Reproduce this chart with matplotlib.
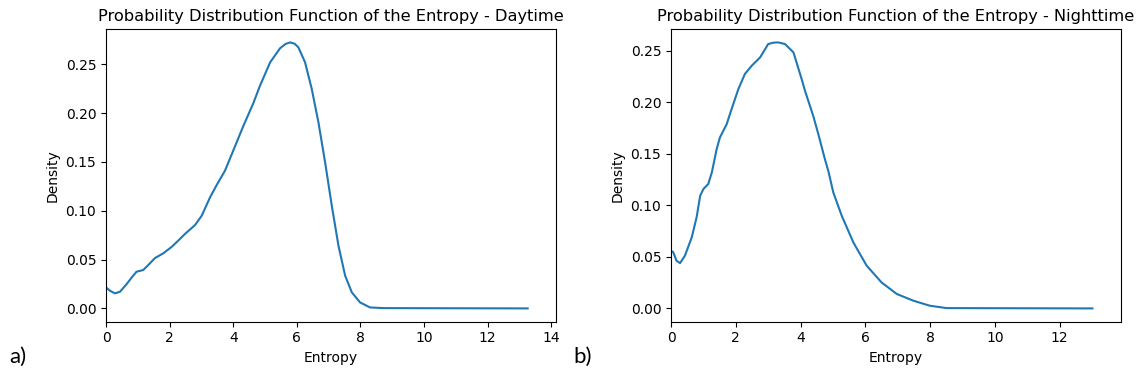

import matplotlib
matplotlib.use("Agg")
import matplotlib.pyplot as plt

# Daytime density curve
DAY_X = [0.00, 0.13, 0.28, 0.44, 0.65, 0.81, 0.96, 1.17, 1.33, 1.54, 1.80,
         2.07, 2.27, 2.48, 2.80, 3.01, 3.27, 3.48, 3.74, 4.00, 4.32, 4.63,
         4.84, 5.16, 5.47, 5.65, 5.79, 5.93, 6.05, 6.26, 6.47, 6.68, 6.89,
         7.10, 7.31, 7.52, 7.73, 7.99, 8.30, 8.72, 13.26]
DAY_Y = [0.0215, 0.0180, 0.0154, 0.0171, 0.0250, 0.0318, 0.0376, 0.0393,
         0.0445, 0.0516, 0.0564, 0.0632, 0.0694, 0.0762, 0.0854, 0.0950,
         0.1137, 0.1264, 0.1410, 0.1616, 0.1870, 0.2100, 0.2280, 0.2520,
         0.2664, 0.2710, 0.2725, 0.2712, 0.2674, 0.2520, 0.2248, 0.1906,
         0.1496, 0.1052, 0.0642, 0.0335, 0.0164, 0.0061, 0.0010, 0.0003, 0.0]

# Nighttime density curve
NIGHT_X = [0.00, 0.07, 0.17, 0.28, 0.43, 0.64, 0.79, 0.90, 1.00, 1.15, 1.26,
           1.41, 1.51, 1.72, 1.87, 2.08, 2.28, 2.49, 2.75, 3.00, 3.15, 3.31,
           3.52, 3.78, 4.03, 4.14, 4.39, 4.55, 4.75, 4.86, 5.01, 5.27, 5.63,
           6.04, 6.50, 6.97, 7.48, 7.99, 8.51, 13.01]
NIGHT_Y = [0.0560, 0.0545, 0.0463, 0.0440, 0.0512, 0.0690, 0.0884, 0.1094,
           0.1159, 0.1208, 0.1320, 0.1548, 0.1660, 0.1790, 0.1936, 0.2130,
           0.2276, 0.2356, 0.2437, 0.2567, 0.2580, 0.2583, 0.2567, 0.2486,
           0.2230, 0.2110, 0.1870, 0.1690, 0.1450, 0.1330, 0.1126, 0.0900,
           0.0640, 0.0415, 0.0252, 0.0140, 0.0075, 0.0026, 0.0003, 0.0]

PANELS = [
    ("Daytime", DAY_X, DAY_Y, 14.15, "a)"),
    ("Nighttime", NIGHT_X, NIGHT_Y, 13.89, "b)"),
]

fig = plt.figure(figsize=(11.4, 3.8), dpi=100)
axes = [fig.add_axes([0.093, 0.1534, 0.3947, 0.770]),
        fig.add_axes([0.5886, 0.1534, 0.3947, 0.770])]

for ax, (name, xs, ys, xmax, tag) in zip(axes, PANELS):
    ax.plot(xs, ys, color="#1f77b4", lw=1.5)
    ax.set_xlim(0, xmax)
    ymax = max(ys)
    ax.set_ylim(-0.05 * ymax, 1.05 * ymax)
    ax.set_yticks([0.0, 0.05, 0.10, 0.15, 0.20, 0.25])
    ax.set_yticklabels(["0.00", "0.05", "0.10", "0.15", "0.20", "0.25"])
    ax.set_title(f"Probability Distribution Function of the Entropy - {name}",
                 fontsize=11.7)
    ax.set_xlabel("Entropy", fontsize=10)
    ax.set_ylabel("Density", fontsize=10)
    ax.tick_params(labelsize=10)

fig.text(0.008, 0.045, "a)", fontsize=16, family="Lato")
fig.text(0.503, 0.045, "b)", fontsize=16, family="Lato")

fig.savefig("out.png", dpi=100)
